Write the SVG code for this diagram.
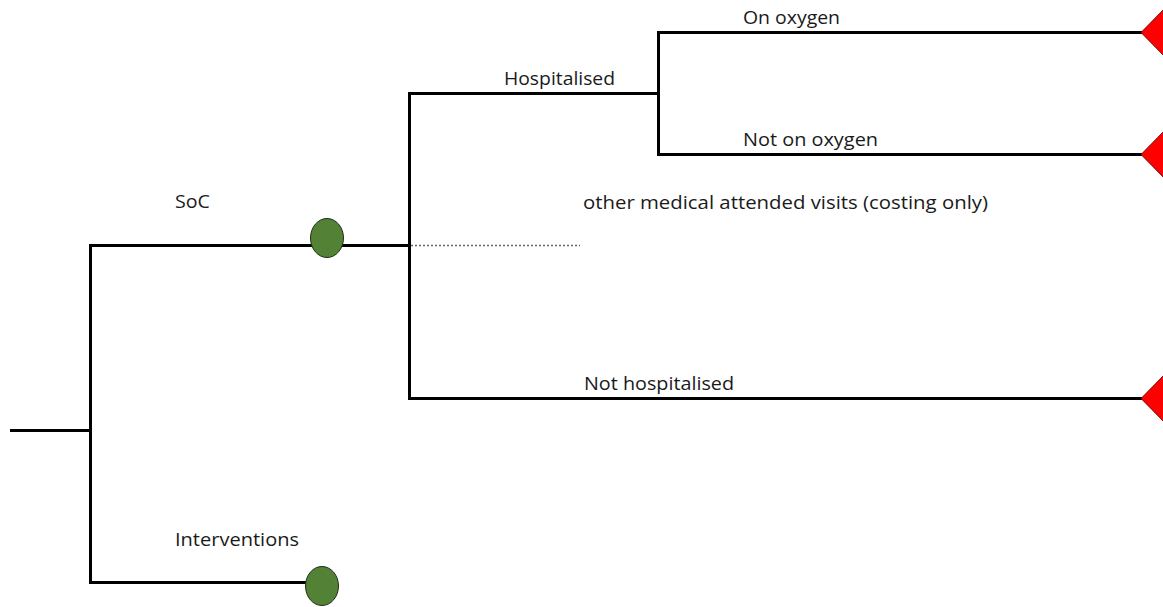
<svg xmlns="http://www.w3.org/2000/svg" width="1163" height="607" viewBox="0 0 1163 607">
<style>
.ln{stroke:#000;stroke-width:3;fill:none}
.dot{stroke:#666;stroke-width:1.3;stroke-dasharray:2 2;fill:none}
.ch{fill:#538135;stroke:#1f2f14;stroke-width:1}
.tm{fill:#ff0000;stroke:#5a0000;stroke-width:0.8}
text{font-family:"Open Sans","Liberation Sans",sans-serif;font-size:19px;fill:#1a1a1a}
</style>
<rect width="1163" height="607" fill="#fff"/>
<g id="connectors">
<path class="ln" d="M10 430.5H90.5"/>
<path class="ln" d="M90.5 245.5V582.5"/>
<path class="ln" d="M89 245.5H409.5"/>
<path class="ln" d="M89 582.5H306"/>
<path class="ln" d="M409.5 93.5V398.5"/>
<path class="ln" d="M408 93.5H658.5"/>
<path class="ln" d="M408 398.5H1142"/>
<path class="ln" d="M658.5 32.5V154.5"/>
<path class="ln" d="M657 32.5H1142"/>
<path class="ln" d="M657 154.5H1142"/>
<path class="dot" d="M411 245.5H580"/>
</g>
<g id="soc-chance"><ellipse class="ch" cx="327" cy="238" rx="16.5" ry="19.5"/></g>
<g id="interventions-chance"><ellipse class="ch" cx="322" cy="586" rx="16.5" ry="19.5"/></g>
<g id="on-oxygen-terminal"><polygon class="tm" points="1141,32.5 1165,8 1189,32.5 1165,57"/></g>
<g id="not-on-oxygen-terminal"><polygon class="tm" points="1141,154.5 1165,130 1189,154.5 1165,179"/></g>
<g id="not-hospitalised-terminal"><polygon class="tm" points="1141,398.5 1165,374 1189,398.5 1165,423"/></g>
<g id="labels">
<text x="743" y="24" textLength="97" lengthAdjust="spacingAndGlyphs">On oxygen</text>
<text x="504" y="85" textLength="111" lengthAdjust="spacingAndGlyphs">Hospitalised</text>
<text x="743" y="146" textLength="135" lengthAdjust="spacingAndGlyphs">Not on oxygen</text>
<text x="583" y="209" textLength="405" lengthAdjust="spacingAndGlyphs">other medical attended visits (costing only)</text>
<text x="175" y="208" textLength="35" lengthAdjust="spacingAndGlyphs">SoC</text>
<text x="584" y="390" textLength="150" lengthAdjust="spacingAndGlyphs">Not hospitalised</text>
<text x="175" y="546" textLength="124" lengthAdjust="spacingAndGlyphs">Interventions</text>
</g>
</svg>
